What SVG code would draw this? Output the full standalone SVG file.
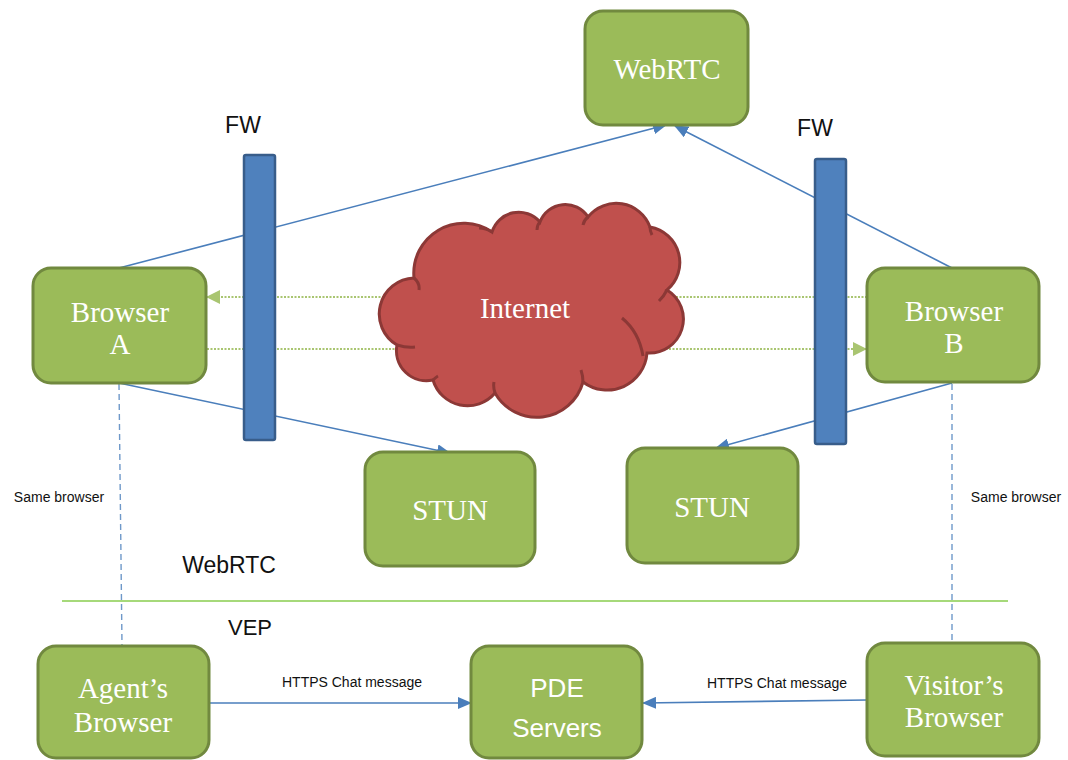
<svg xmlns="http://www.w3.org/2000/svg" width="1068" height="760" viewBox="0 0 1068 760">
<defs>
<style>
.node{fill:#9BBB59;stroke:#71893F;stroke-width:3}
.nt{font-family:"Liberation Serif",serif;font-size:29px;fill:#fff;text-anchor:middle}
.nts{font-family:"Liberation Sans",sans-serif;font-size:26px;fill:#fff;text-anchor:middle}
.lbl{font-family:"Liberation Sans",sans-serif;fill:#111;text-anchor:middle}
.blue{stroke:#4A7EBB;stroke-width:1.6;fill:none}
.dot{stroke:#9BBB59;stroke-width:2;stroke-dasharray:2 1.5;fill:none;opacity:0.85}
.dash{stroke:#4A7EBB;stroke-width:1.4;stroke-dasharray:6 4;fill:none;opacity:0.8}
.fw{fill:#4F81BD;stroke:#385D8A;stroke-width:2.5}
</style>
<marker id="ab" markerWidth="14" markerHeight="12" refX="13" refY="6" orient="auto" markerUnits="userSpaceOnUse">
<path d="M0,0 L14,6 L0,12 z" fill="#4A7EBB"/>
</marker>
<marker id="ag" markerWidth="14" markerHeight="14" refX="13" refY="7" orient="auto" markerUnits="userSpaceOnUse">
<path d="M0,0 L14,7 L0,14 z" fill="#9BBB59"/>
</marker>
</defs>
<rect width="1068" height="760" fill="#fff"/>

<g id="connectors">
<line class="blue" x1="119" y1="268" x2="666" y2="125" marker-end="url(#ab)"/>
<line class="blue" x1="952" y1="268" x2="675" y2="126" marker-end="url(#ab)"/>
<line class="blue" x1="119" y1="383" x2="450" y2="453" marker-end="url(#ab)"/>
<line class="blue" x1="952" y1="383" x2="716" y2="448" marker-end="url(#ab)"/>
<line class="dot" x1="867" y1="297" x2="207" y2="297" marker-end="url(#ag)"/>
<line class="dot" x1="207" y1="349" x2="866" y2="349" marker-end="url(#ag)"/>
<line class="dash" x1="119" y1="384" x2="122" y2="646"/>
<line class="dash" x1="952" y1="384" x2="952" y2="643"/>
<line class="blue" x1="209" y1="703" x2="471" y2="703" marker-end="url(#ab)"/>
<line class="blue" x1="867" y1="700" x2="643" y2="703" marker-end="url(#ab)"/>
<line x1="62" y1="601" x2="1008" y2="601" stroke="#A6D97A" stroke-width="2"/>
</g>

<g id="fw-left">
<rect class="fw" x="244" y="155" width="31" height="285" rx="2"/>
<text class="lbl" x="243" y="133" font-size="23">FW</text>
</g>
<g id="fw-right">
<rect class="fw" x="815" y="159" width="31" height="285" rx="2"/>
<text class="lbl" x="815" y="136" font-size="23">FW</text>
</g>

<g id="internet">
<path d="M414,278 A50,50 0 0 1 492,232 A28,28 0 0 1 540,222 A27,27 0 0 1 588,217 A36,36 0 0 1 650,227 A36,36 0 0 1 667,290 A34,34 0 0 1 647,353 A40,40 0 0 1 583,382 A48,48 0 0 1 495,393 A36,36 0 0 1 433,380 A30,30 0 0 1 397,345 A36,36 0 0 1 414,278 Z" fill="#C0504D" stroke="#8C3836" stroke-width="3"/>
<path d="M414,278 q6,5 5,12 M492,232 q-6,-4 -13,-4 M540,222 q-3,3 -3,8 M588,217 q-4,3 -5,8 M650,227 q0,4 2,8 M667,290 q-3,6 -8,11 M622,318 q17,14 21,38 M583,382 q0,-6 -2,-12 M495,393 q-2,-6 -1,-11 M433,380 q3,-3 5,-4 M397,345 q10,3 18,2" fill="none" stroke="#8C3836" stroke-width="3"/>
<text class="nt" x="525" y="318">Internet</text>
</g>

<g id="webrtc">
<rect class="node" x="585" y="11" width="163" height="114" rx="18"/>
<text class="nt" x="667" y="79">WebRTC</text>
</g>
<g id="browser-a">
<rect class="node" x="33" y="268" width="173" height="115" rx="18"/>
<text class="nt" x="120" y="322">Browser</text>
<text class="nt" x="120" y="354">A</text>
</g>
<g id="browser-b">
<rect class="node" x="867" y="268" width="172" height="114" rx="18"/>
<text class="nt" x="954" y="321">Browser</text>
<text class="nt" x="954" y="353">B</text>
</g>
<g id="stun-left">
<rect class="node" x="365" y="452" width="170" height="114" rx="18"/>
<text class="nt" x="450" y="520">STUN</text>
</g>
<g id="stun-right">
<rect class="node" x="627" y="448" width="171" height="115" rx="18"/>
<text class="nt" x="712" y="517">STUN</text>
</g>
<g id="agents-browser">
<rect class="node" x="38" y="646" width="171" height="112" rx="18"/>
<text class="nt" x="123" y="698">Agent’s</text>
<text class="nt" x="123" y="732">Browser</text>
</g>
<g id="pde-servers">
<rect class="node" x="471" y="646" width="171" height="112" rx="18"/>
<text class="nts" x="557" y="697">PDE</text>
<text class="nts" x="557" y="737">Servers</text>
</g>
<g id="visitors-browser">
<rect class="node" x="867" y="643" width="172" height="113" rx="18"/>
<text class="nt" x="954" y="695">Visitor’s</text>
<text class="nt" x="954" y="727">Browser</text>
</g>

<g id="labels">
<text class="lbl" x="59" y="502" font-size="14">Same browser</text>
<text class="lbl" x="1016" y="502" font-size="14">Same browser</text>
<text class="lbl" x="229" y="573" font-size="23">WebRTC</text>
<text class="lbl" x="250" y="635" font-size="22">VEP</text>
<text class="lbl" x="352" y="687" font-size="14">HTTPS Chat message</text>
<text class="lbl" x="777" y="688" font-size="14">HTTPS Chat message</text>
</g>
</svg>
